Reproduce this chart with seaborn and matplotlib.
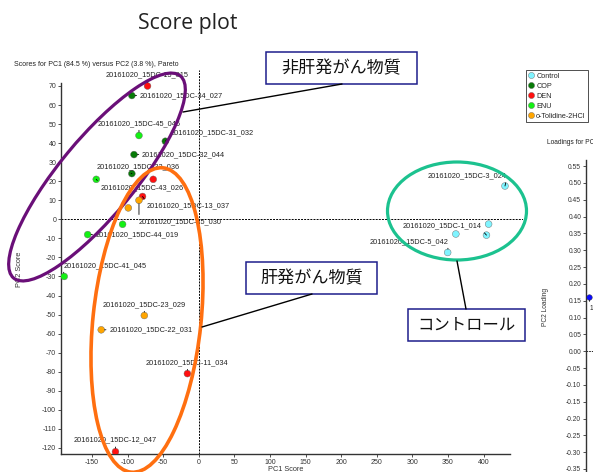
import matplotlib.pyplot as plt
import seaborn as sns
import pandas as pd
from matplotlib.patches import Ellipse, Rectangle

W, H = 593, 472

# score plot data (PC1 / PC2 scores)
samples = [
    "20161020_15DC-15_015", "20161020_15DC-34_027", "20161020_15DC-45_046",
    "20161020_15DC-31_032", "20161020_15DC-32_044", "20161020_15DC-33_036",
    "20161020_15DC-43_026", "", "20161020_15DC-13_037", "20161020_15DC-25_030",
    "", "", "20161020_15DC-44_019", "20161020_15DC-41_045",
    "20161020_15DC-23_029", "20161020_15DC-22_031", "20161020_15DC-11_034",
    "20161020_15DC-12_047", "20161020_15DC-3_024", "", "",
    "20161020_15DC-1_014", "20161020_15DC-5_042",
]
groups = [
    "DEN", "COP", "ENU", "COP", "COP", "COP", "ENU", "DEN", "DEN",
    "o-Tolidine-2HCl", "o-Tolidine-2HCl", "ENU", "ENU", "ENU",
    "o-Tolidine-2HCl", "o-Tolidine-2HCl", "DEN", "DEN",
    "Control", "Control", "Control", "Control", "Control",
]
pc1 = [-72, -94, -84, -47, -91, -94, -144, -64, -79, -84, -99, -107, -156, -189,
       -76.5, -137, -16, -117, 430, 407, 361, 404, 349.5]
pc2 = [70, 65, 44, 41, 34, 24, 21, 21, 12, 10, 6, -2.6, -8, -30,
       -50.5, -58, -81, -122, 17.5, -2.5, -7.7, -8.3, -17.4]

group_order = ["Control", "COP", "DEN", "ENU", "o-Tolidine-2HCl"]
group_colors = ["#80F4FF", "#087A08", "#FF1010", "#14F014", "#FFA500"]

x_ticks = [-150, -100, -50, 0, 50, 100, 150, 200, 250, 300, 350, 400]
y_ticks = [-120, -110, -100, -90, -80, -70, -60, -50, -40, -30, -20, -10,
           0, 10, 20, 30, 40, 50, 60, 70]

# loadings panel (only its left edge is visible)
loading_pc1 = [-0.04]
loading_pc2 = [0.16]
loading_names = ["1:"]
loading_ticks = [-0.35, -0.30, -0.25, -0.20, -0.15, -0.10, -0.05, 0.00, 0.05,
                 0.10, 0.15, 0.20, 0.25, 0.30, 0.35, 0.40, 0.45, 0.50, 0.55]

# label offsets in pixels (dx, dy, ha, connector start)
label_pos = {
    "20161020_15DC-15_015": (0, 11, "center", (0.5, 0)),
    "20161020_15DC-34_027": (8, 0, "left", (0, 0.5)),
    "20161020_15DC-45_046": (0, 12, "center", (0.5, 0)),
    "20161020_15DC-31_032": (5, 8, "left", (0, 0)),
    "20161020_15DC-32_044": (8, 0, "left", (0, 0.5)),
    "20161020_15DC-33_036": (6, 7, "center", (0.3, 0)),
    "20161020_15DC-43_026": (4, -8, "left", (0, 1)),
    "20161020_15DC-13_037": (4, -9, "left", (0, 1)),
    "20161020_15DC-25_030": (0, -21, "left", (0, 1)),
    "20161020_15DC-44_019": (8, 0, "left", (0, 0.5)),
    "20161020_15DC-41_045": (-1, 11, "left", (0, 0)),
    "20161020_15DC-23_029": (0, 11, "center", (0.5, 0)),
    "20161020_15DC-22_031": (8, 0, "left", (0, 0.5)),
    "20161020_15DC-11_034": (0, 11, "center", (0.5, 0)),
    "20161020_15DC-12_047": (0, 11.5, "center", (0.5, 0)),
    "20161020_15DC-3_024": (1.5, 10, "right", (1, 0)),
    "20161020_15DC-1_014": (-5, 9, "right", (1, 0)),
    "20161020_15DC-5_042": (0.5, 11, "right", (1, 0)),
}

df = pd.DataFrame({"sample": samples, "group": groups, "pc1": pc1, "pc2": pc2})

sns.set_style("ticks")
plt.rcParams["font.family"] = ["Liberation Sans", "DejaVu Sans"]
plt.rcParams["axes.unicode_minus"] = False
ink = "#333333"


def rect(left, top, right, bottom):
    return [left / W, 1 - bottom / H, (right - left) / W, (bottom - top) / H]


fig = plt.figure(figsize=(W / 100, H / 100), dpi=100)

# ---- score plot ----
ax = fig.add_axes(rect(61, 70, 523, 454))
ax.axhline(0, color="black", lw=0.7, ls=(0, (2, 1.2)), zorder=1)
ax.axvline(0, color="black", lw=0.7, ls=(0, (2, 1.2)), zorder=1)
sns.scatterplot(data=df, x="pc1", y="pc2", hue="group", hue_order=group_order,
                palette=dict(zip(group_order, group_colors)), s=24,
                edgecolor="#666666", linewidth=0.3, zorder=3, ax=ax)

for name, x, y in zip(samples, pc1, pc2):
    if not name:
        continue
    dx, dy, ha, rel = label_pos[name]
    ax.annotate(name, (x, y), xytext=(dx, dy), textcoords="offset pixels",
                ha=ha, va="center", fontsize=5.3, color="#222222", zorder=4,
                annotation_clip=False,
                arrowprops=dict(arrowstyle="-", lw=0.6, color="black",
                                relpos=rel, shrinkA=0, shrinkB=2.5))

ax.set_xlim(-193.5, 455.3)
ax.set_ylim(-123.2, 78.4)
ax.set_xticks(x_ticks)
ax.set_yticks(y_ticks)
sns.despine(ax=ax)
ax.spines["left"].set_bounds(-123.2, 71.5)
ax.spines["bottom"].set_bounds(-193.5, 437)
for s in ["left", "bottom"]:
    ax.spines[s].set_color(ink)
    ax.spines[s].set_linewidth(1.0)
ax.tick_params(labelsize=5, length=2, width=0.6, pad=1.5, colors=ink)
ax.set_xlabel("PC1 Score", fontsize=5.3, color=ink)
ax.set_ylabel("PC2 Score", fontsize=5.3, color=ink)
ax.xaxis.set_label_coords(0.486, -0.031)
ax.yaxis.set_label_coords(-0.082, 0.48)

leg = ax.legend(loc="upper left", bbox_to_anchor=(1.006, 1.0), borderaxespad=0,
                fontsize=5.2, frameon=True, fancybox=False, handlelength=0.8,
                handletextpad=0.3, labelspacing=0.42, borderpad=0.35,
                markerscale=0.9)
leg.get_frame().set_edgecolor("black")
leg.get_frame().set_linewidth(0.6)

fig.text(14 / W, 1 - 65 / H, "Scores for PC1 (84.5 %) versus PC2 (3.8 %), Pareto",
         fontsize=5, color="#222222", ha="left", va="center")

# ---- loadings plot (cut off at the right) ----
lx = fig.add_axes(rect(586, 160, 786, 490))
lx.axhline(0, color="black", lw=0.6, ls=(0, (2, 1.2)), zorder=1)
sns.scatterplot(x=loading_pc1, y=loading_pc2, color="#0A0AFF", s=16,
                edgecolor="#333333", linewidth=0.3, zorder=3, ax=lx)
for name, x, y in zip(loading_names, loading_pc1, loading_pc2):
    lx.annotate(name, (x, y), xytext=(0, -11), textcoords="offset pixels",
                ha="left", va="center", fontsize=4.8, color="#222222",
                arrowprops=dict(arrowstyle="-", lw=0.5, color="black",
                                relpos=(0, 1), shrinkA=0, shrinkB=2))
lx.set_xlim(-0.05, 0.55)
lx.set_ylim(-0.4124, 0.568)
lx.set_yticks(loading_ticks)
lx.set_yticklabels([f"{t:.2f}" for t in loading_ticks])
lx.set_xticks([])
sns.despine(ax=lx, bottom=True)
lx.spines["left"].set_color(ink)
lx.spines["left"].set_linewidth(1.0)
lx.tick_params(labelsize=4.8, length=2, width=0.6, pad=1.5, colors=ink)
lx.set_ylabel("PC2 Loading", fontsize=4.8, color=ink)
lx.yaxis.set_label_coords(-0.185, 0.555)
fig.text(547 / W, 1 - 143 / H,
         "Loadings for PC1 (84.5 %) versus PC2 (3.8 %), Pareto",
         fontsize=4.8, color="#222222", ha="left", va="center")

# ---- slide annotations: title, ellipses, callouts ----
fig.text(188 / W, 1 - 24 / H, "Score plot", fontsize=15.3, color="#222222",
         ha="center", va="center", family=["Open Sans", "DejaVu Sans"])

ov = fig.add_axes([0, 0, 1, 1], zorder=10)
ov.set_xlim(0, W)
ov.set_ylim(H, 0)
ov.axis("off")
ov.patch.set_alpha(0)

ov.add_patch(Ellipse((97, 177), 262, 76, angle=-50.5, fill=False,
                     edgecolor="#6A0F78", lw=2.3))
ov.add_patch(Ellipse((147, 320), 306, 108, angle=-84, fill=False,
                     edgecolor="#FF6F10", lw=2.6))
ov.add_patch(Ellipse((457, 211), 139, 98, angle=0, fill=False,
                     edgecolor="#1CC28F", lw=2.3))

callouts = [
    ("非肝発がん物質", (266, 52, 417, 84), ((342, 84), (183, 112)), 12.3),
    ("肝発がん物質", (246, 262, 377, 294), ((312, 294), (202, 327)), 12.3),
    ("コントロール", (408, 309, 525, 341), ((466, 309), (457, 261)), 11.8),
]
for text, (l, t, r, b), (p0, p1), size in callouts:
    ov.plot([p0[0], p1[0]], [p0[1], p1[1]], color="black", lw=1.0)
    ov.add_patch(Rectangle((l, t), r - l, b - t, facecolor="white",
                           edgecolor="#1E1E8C", lw=1.1))
    ov.text((l + r) / 2, (t + b) / 2, text, fontsize=size, color="#111111",
            ha="center", va="center",
            family=["Noto Sans CJK JP", "DejaVu Sans"])

fig.savefig("out.png", dpi=100)
